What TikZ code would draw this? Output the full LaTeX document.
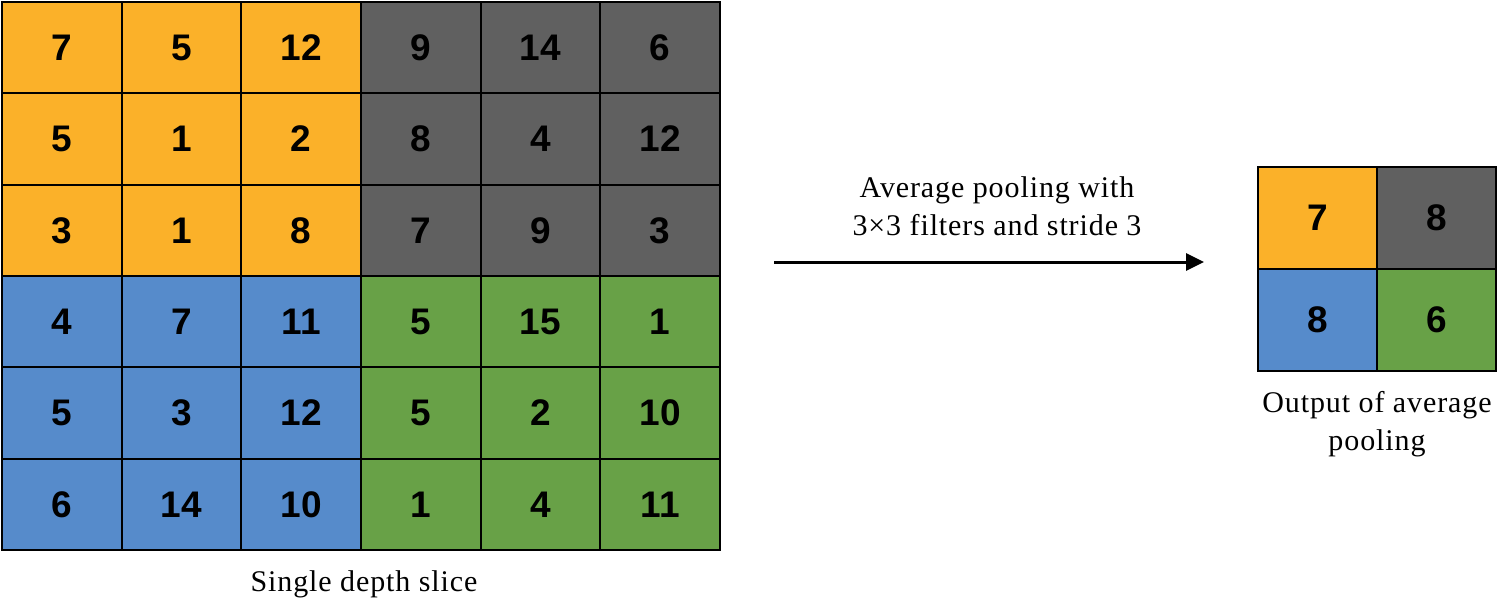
\documentclass[tikz,border=0pt]{standalone}
\usepackage{fontspec}
\setmainfont{Liberation Serif}[LetterSpace=3]
\newfontfamily\cellfont{Liberation Sans}
\definecolor{corange}{RGB}{251,177,41}
\definecolor{cgray}{RGB}{96,96,96}
\definecolor{cblue}{RGB}{86,139,203}
\definecolor{cgreen}{RGB}{104,161,71}
\usetikzlibrary{arrows.meta}
\tikzset{
  cell/.style={draw=black, line width=2pt, minimum width=119.67pt, minimum height=91.33pt, inner sep=0pt, font=\cellfont\bfseries\fontsize{37}{40}\selectfont},
  ocell/.style={draw=black, line width=2pt, minimum width=119pt, minimum height=102pt, inner sep=0pt, font=\cellfont\bfseries\fontsize{37}{40}\selectfont},
  lbl/.style={font=\fontsize{30}{38}\selectfont, align=center, inner sep=0pt},
  conn/.style={line width=3pt, -{Triangle[length=18pt,width=17pt]}}
}
\begin{document}
\begin{tikzpicture}[x=1pt,y=-1pt]
\useasboundingbox (0,0) rectangle (1499,608);
\foreach \r/\row in {0/{7,5,12,9,14,6},1/{5,1,2,8,4,12},2/{3,1,8,7,9,3},3/{4,7,11,5,15,1},4/{5,3,12,5,2,10},5/{6,14,10,1,4,11}} {
  \foreach \v [count=\c from 0] in \row {
    \pgfmathsetmacro{\q}{int(2*(\r>2)+(\c>2))}
    \ifcase\q\relax \def\fc{corange}\or \def\fc{cgray}\or \def\fc{cblue}\else \def\fc{cgreen}\fi
    \node[cell, fill=\fc] (c\r\c) at ({2+119.67*(\c+0.5)},{2+91.33*(\r+0.5)}) {\v};
  }
}
\node[ocell, fill=corange] (o00) at (1317.5,218) {7};
\node[ocell, fill=cgray]   (o01) at (1436.5,218) {8};
\node[ocell, fill=cblue]   (o10) at (1317.5,320) {8};
\node[ocell, fill=cgreen]  (o11) at (1436.5,320) {6};
\node[lbl] (slice) at (364,584) {Single depth slice};
\node[lbl] (outl) at (1377,424) {Output of average\\pooling};
\coordinate (as) at (774,262);
\coordinate (ae) at (1204,262);
\draw[conn] (as) -- (ae);
\node[lbl] (alab) at (997,206) {Average pooling with\\3\texttimes3 filters and stride 3};
\end{tikzpicture}
\end{document}
